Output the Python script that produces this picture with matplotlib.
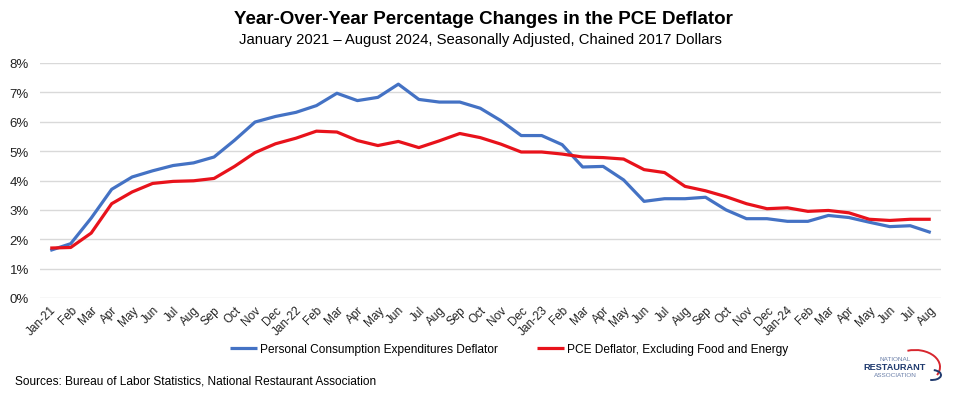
import matplotlib
matplotlib.use("Agg")
import matplotlib.pyplot as plt
from matplotlib.patches import Arc

months = ["Jan-21", "Feb", "Mar", "Apr", "May", "Jun", "Jul", "Aug", "Sep", "Oct", "Nov", "Dec",
          "Jan-22", "Feb", "Mar", "Apr", "May", "Jun", "Jul", "Aug", "Sep", "Oct", "Nov", "Dec",
          "Jan-23", "Feb", "Mar", "Apr", "May", "Jun", "Jul", "Aug", "Sep", "Oct", "Nov", "Dec",
          "Jan-24", "Feb", "Mar", "Apr", "May", "Jun", "Jul", "Aug"]

pce_headline = [1.62, 1.85, 2.72, 3.70, 4.12, 4.33, 4.51, 4.60, 4.80, 5.37, 5.99, 6.18,
                6.32, 6.55, 6.97, 6.72, 6.83, 7.28, 6.76, 6.67, 6.67, 6.46, 6.04, 5.53,
                5.53, 5.22, 4.46, 4.48, 4.02, 3.29, 3.38, 3.38, 3.43, 3.00, 2.70, 2.70,
                2.61, 2.61, 2.81, 2.74, 2.58, 2.43, 2.46, 2.23]

pce_core = [1.70, 1.72, 2.21, 3.21, 3.61, 3.90, 3.97, 3.99, 4.07, 4.48, 4.95, 5.25,
            5.44, 5.68, 5.65, 5.36, 5.19, 5.33, 5.12, 5.35, 5.60, 5.46, 5.24, 4.97,
            4.97, 4.90, 4.80, 4.78, 4.73, 4.37, 4.27, 3.80, 3.65, 3.45, 3.21, 3.04,
            3.07, 2.95, 2.98, 2.90, 2.68, 2.64, 2.68, 2.68]

yticks = [0, 1, 2, 3, 4, 5, 6, 7, 8]
ytick_labels = [f"{v}%" for v in yticks]

plt.rcParams["font.family"] = ["Liberation Sans", "DejaVu Sans"]

W, H = 956, 402
fig = plt.figure(figsize=(W / 100, H / 100), dpi=100)
ax = fig.add_axes([40 / W, 1 - 299 / H, (941 - 40) / W, (299 - 64) / H])

x = list(range(len(months)))
l1, = ax.plot(x, pce_headline, color="#4472C4", lw=2.3, solid_capstyle="butt",
              solid_joinstyle="round", label="Personal Consumption Expenditures Deflator", zorder=3)
l2, = ax.plot(x, pce_core, color="#E8121B", lw=2.3, solid_capstyle="butt",
              solid_joinstyle="round", label="PCE Deflator, Excluding Food and Energy", zorder=3)

ax.set_xlim(-0.5, len(months) - 0.5)
ax.set_ylim(0, 8)
ax.set_yticks(yticks)
ax.set_yticklabels(ytick_labels, fontsize=9.5, color="#222222")
ax.set_xticks(x)
ax.set_xticklabels(months, rotation=45, ha="right", rotation_mode="anchor", fontsize=8.5, color="#222222")
ax.tick_params(axis="both", length=0, pad=4)
ax.tick_params(axis="y", pad=8)
for s in ax.spines.values():
    s.set_visible(False)
ax.grid(axis="y", color="#D9D9D9", lw=1)
ax.set_axisbelow(True)

fig.text(483 / W, 1 - 20 / H, "Year-Over-Year Percentage Changes in the PCE Deflator",
         ha="center", va="center", fontsize=13.5, fontweight="bold")
fig.text(480 / W, 1 - 40 / H, "January 2021 \u2013 August 2024, Seasonally Adjusted, Chained 2017 Dollars",
         ha="center", va="center", fontsize=10.7)

leg = fig.legend(handles=[l1, l2], loc="center", bbox_to_anchor=(509 / W, 1 - 350 / H), ncol=2,
                 frameon=False, handlelength=2.3, handletextpad=0.2, columnspacing=3.3,
                 prop={"size": 8.6})

fig.text(15 / W, 1 - 382 / H, "Sources: Bureau of Labor Statistics, National Restaurant Association",
         ha="left", va="center", fontsize=8.6)

# logo
fig.text(895 / W, 1 - 360 / H, "NATIONAL", ha="center", va="center", fontsize=4.6, color="#6A7FA8")
fig.text(895 / W, 1 - 368 / H, "RESTAURANT", ha="center", va="center", fontsize=6.6,
         fontweight="bold", color="#1F3A6E")
fig.text(895 / W, 1 - 376 / H, "ASSOCIATION", ha="center", va="center", fontsize=4.6, color="#6A7FA8")
lax = fig.add_axes([860 / W, 1 - 395 / H, 90 / W, 50 / H])
lax.set_xlim(0, 90)
lax.set_ylim(0, 50)
lax.axis("off")
lax.add_patch(Arc((55, 27), 50, 34, theta1=-20, theta2=115, color="#D7262E", lw=1.4))
lax.add_patch(Arc((72, 19), 18, 10, theta1=-110, theta2=70, color="#1F3A6E", lw=1.4))

fig.savefig("out.png", dpi=100)
